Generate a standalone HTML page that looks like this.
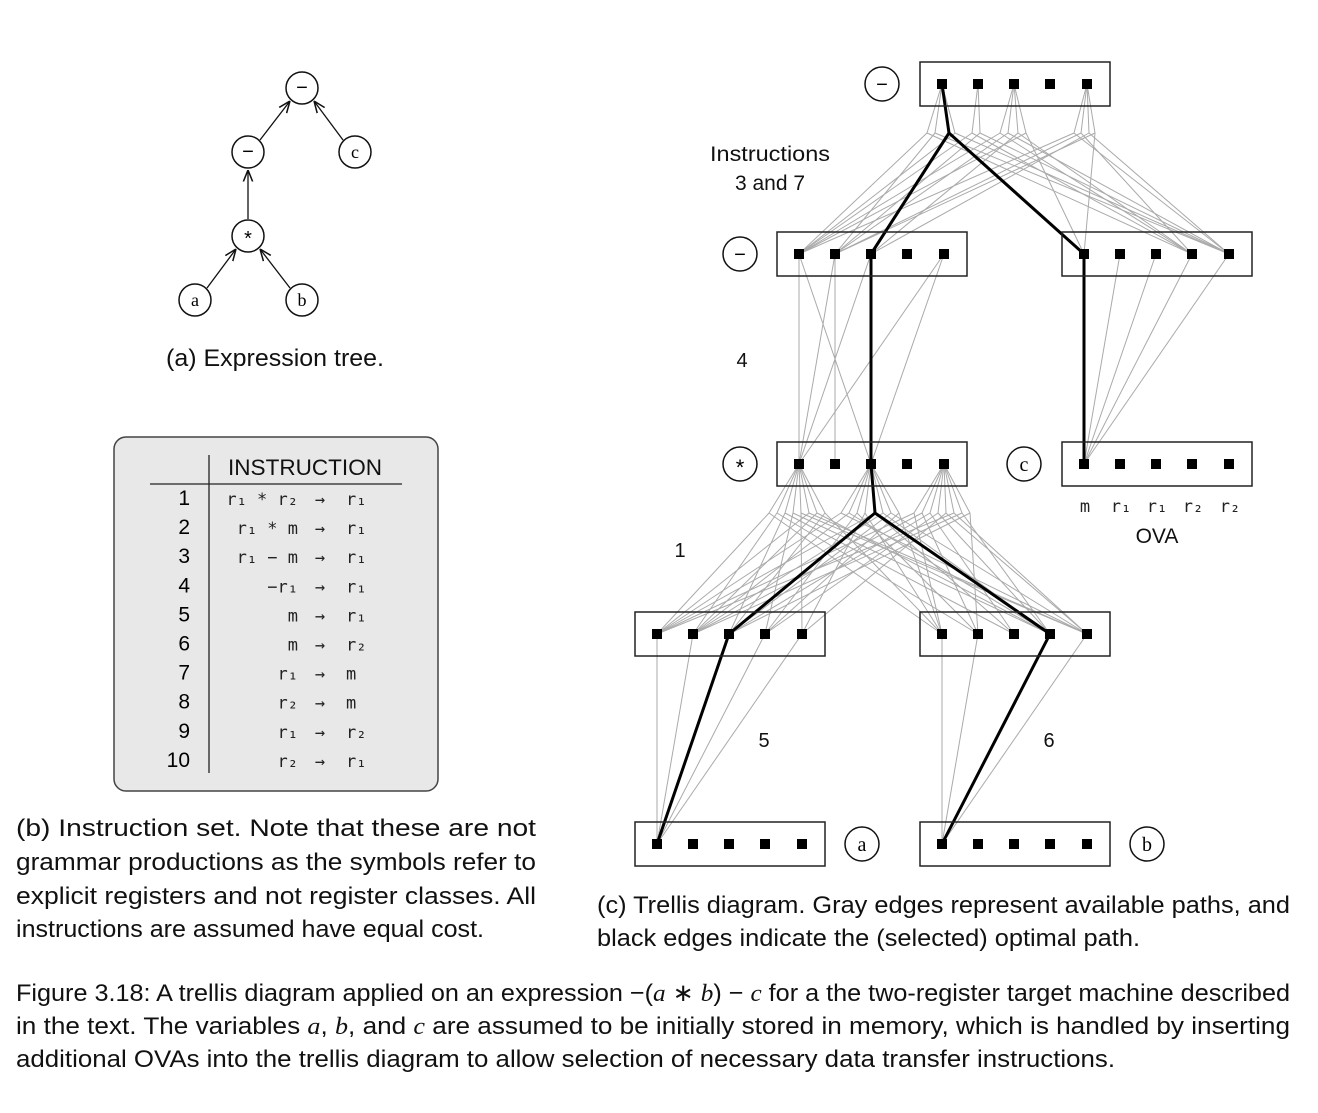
<!DOCTYPE html>
<html><head><meta charset="utf-8"><style>
html,body{margin:0;padding:0;background:#fff;}
svg{display:block;font-family:"Liberation Sans",sans-serif;}
.cap{font-family:"Liberation Sans",sans-serif;font-size:24.5px;fill:#111;}
.mono{font-family:"DejaVu Sans Mono","Liberation Mono",monospace;font-size:17px;fill:#222;}
.g{stroke:#aaa;stroke-width:1;fill:none;}
.k{stroke:#000;stroke-width:3;fill:none;}
.box{fill:none;stroke:#222;stroke-width:1.5;}
.nd{fill:#fff;stroke:#111;stroke-width:1.5;}
</style></head><body>
<svg id="fig" width="1318" height="1113" viewBox="0 0 1318 1113" xmlns="http://www.w3.org/2000/svg">
<defs><marker id="ar" viewBox="0 0 10 10" refX="10" refY="5" markerWidth="9" markerHeight="9" orient="auto"><path d="M0,1 L10,5 L0,9" fill="none" stroke="#111" stroke-width="1.3"/></marker></defs>

<g>
<line x1="260" y1="140" x2="290" y2="101" stroke="#111" stroke-width="1.3" marker-end="url(#ar)"/>
<line x1="343" y1="140" x2="314" y2="101" stroke="#111" stroke-width="1.3" marker-end="url(#ar)"/>
<line x1="248" y1="219" x2="248" y2="170" stroke="#111" stroke-width="1.3" marker-end="url(#ar)"/>
<line x1="207" y1="288" x2="236" y2="249" stroke="#111" stroke-width="1.3" marker-end="url(#ar)"/>
<line x1="290" y1="288" x2="260" y2="249" stroke="#111" stroke-width="1.3" marker-end="url(#ar)"/>
<circle class="nd" cx="302" cy="88" r="16"/><text x="302" y="94" text-anchor="middle" font-size="20">−</text>
<circle class="nd" cx="248" cy="152" r="16"/><text x="248" y="158" text-anchor="middle" font-size="20">−</text>
<circle class="nd" cx="355" cy="152" r="16"/><text x="355" y="158" text-anchor="middle" font-size="18" font-family="Liberation Serif">c</text>
<circle class="nd" cx="248" cy="236" r="16"/><text x="248" y="245" text-anchor="middle" font-size="20">*</text>
<circle class="nd" cx="195" cy="300" r="16"/><text x="195" y="306" text-anchor="middle" font-size="18" font-family="Liberation Serif">a</text>
<circle class="nd" cx="302" cy="300" r="16"/><text x="302" y="306" text-anchor="middle" font-size="18" font-family="Liberation Serif">b</text>
</g>
<text class="cap" x="166" y="366" textLength="218" lengthAdjust="spacingAndGlyphs">(a) Expression tree.</text>

<g>
<rect x="114" y="437" width="324" height="354" rx="12" fill="#e8e8e8" stroke="#444" stroke-width="1.5"/>
<line x1="150" y1="484" x2="402" y2="484" stroke="#222" stroke-width="1.3"/>
<line x1="209" y1="455" x2="209" y2="773" stroke="#222" stroke-width="1.3"/>
<text x="305" y="475" text-anchor="middle" font-size="22" textLength="154" lengthAdjust="spacingAndGlyphs" fill="#111">INSTRUCTION</text>
<g id="rows"></g>
</g>
<text class="cap" x="16" y="836" textLength="520" lengthAdjust="spacingAndGlyphs">(b) Instruction set.  Note that these are not</text>
<text class="cap" x="16" y="870" textLength="520" lengthAdjust="spacingAndGlyphs">grammar productions as the symbols refer to</text>
<text class="cap" x="16" y="904" textLength="520" lengthAdjust="spacingAndGlyphs">explicit registers and not register classes. All</text>
<text class="cap" x="16" y="937" textLength="468" lengthAdjust="spacingAndGlyphs">instructions are assumed have equal cost.</text>

<g id="trellis">
<g id="edges"></g><g id="black"></g><g id="boxes"></g>
</g>
<text x="770" y="161" text-anchor="middle" font-size="21" textLength="120" lengthAdjust="spacingAndGlyphs" fill="#111">Instructions</text>
<text x="770" y="190" text-anchor="middle" font-size="21" fill="#111">3 and 7</text>
<text x="742" y="367" text-anchor="middle" font-size="20" fill="#111">4</text>
<text x="680" y="557" text-anchor="middle" font-size="20" fill="#111">1</text>
<text x="764" y="747" text-anchor="middle" font-size="20" fill="#111">5</text>
<text x="1049" y="747" text-anchor="middle" font-size="20" fill="#111">6</text>
<g>
<text class="mono" x="1085" y="512" text-anchor="middle" font-size="16">m</text>
<text class="mono" x="1121" y="512" text-anchor="middle" font-size="16">r₁</text>
<text class="mono" x="1157" y="512" text-anchor="middle" font-size="16">r₁</text>
<text class="mono" x="1193" y="512" text-anchor="middle" font-size="16">r₂</text>
<text class="mono" x="1230" y="512" text-anchor="middle" font-size="16">r₂</text>
</g>
<text x="1157" y="543" text-anchor="middle" font-size="21" fill="#111">OVA</text>
<text class="cap" x="597" y="913" textLength="693" lengthAdjust="spacingAndGlyphs">(c) Trellis diagram. Gray edges represent available paths, and</text>
<text class="cap" x="597" y="946" textLength="543" lengthAdjust="spacingAndGlyphs">black edges indicate the (selected) optimal path.</text>

<text class="cap" x="16" y="1001" textLength="1274" lengthAdjust="spacingAndGlyphs">Figure 3.18: A trellis diagram applied on an expression −(<tspan font-family="Liberation Serif" font-style="italic">a</tspan> ∗ <tspan font-family="Liberation Serif" font-style="italic">b</tspan>) − <tspan font-family="Liberation Serif" font-style="italic">c</tspan> for a the two-register target machine described</text>
<text class="cap" x="16" y="1034" textLength="1274" lengthAdjust="spacingAndGlyphs">in the text. The variables <tspan font-family="Liberation Serif" font-style="italic">a</tspan>, <tspan font-family="Liberation Serif" font-style="italic">b</tspan>, and <tspan font-family="Liberation Serif" font-style="italic">c</tspan> are assumed to be initially stored in memory, which is handled by inserting</text>
<text class="cap" x="16" y="1067" textLength="1099" lengthAdjust="spacingAndGlyphs">additional OVAs into the trellis diagram to allow selection of necessary data transfer instructions.</text>
</svg>
<script>
const NS="http://www.w3.org/2000/svg";
const rowNums=["1","2","3","4","5","6","7","8","9","10"];
const rowLhs=["r₁ * r₂","r₁ * m","r₁ − m","−r₁","m","m","r₁","r₂","r₁","r₂"];
const rowRhs=["r₁","r₁","r₁","r₁","r₁","r₂","m","m","r₂","r₁"];
const rg=document.getElementById('rows');
function T(parent,x,y,s,cls,anchor){const t=document.createElementNS(NS,'text');t.setAttribute('x',x);t.setAttribute('y',y);if(cls)t.setAttribute('class',cls);if(anchor)t.setAttribute('text-anchor',anchor);t.textContent=s;parent.appendChild(t);return t;}
rowNums.forEach((n,i)=>{
  const y=505+i*29.1;
  const g=document.createElementNS(NS,'g');
  
  
  const a=T(g,190,y,n,null,'end');a.setAttribute('font-size','21');
  T(g,298,y,rowLhs[i],'mono','end');
  T(g,320,y,'→','mono','middle');
  T(g,346,y,rowRhs[i],'mono','start');
  rg.appendChild(g);
});

const dx=[22,58,94,130,167];
const boxes=[
 {id:'top',x:920,y:62,label:'−',cx:882},
 {id:'negL',x:777,y:232,label:'−',cx:740},
 {id:'ovaR',x:1062,y:232},
 {id:'mul',x:777,y:442,label:'*',cx:740},
 {id:'c',x:1062,y:442,label:'c',cx:1024},
 {id:'l4',x:635,y:612},
 {id:'r4',x:920,y:612},
 {id:'a',x:635,y:822,label:'a',cx:862},
 {id:'b',x:920,y:822,label:'b',cx:1147}
];
const B={};boxes.forEach(b=>B[b.id]=b);
function P(id,i){const b=B[id];return [b.x+dx[i],b.y+22];}
const eg=document.getElementById('edges'),kg=document.getElementById('black'),bg=document.getElementById('boxes');
function L(g,p,q,cls){const l=document.createElementNS(NS,'line');l.setAttribute('x1',p[0]);l.setAttribute('y1',p[1]);l.setAttribute('x2',q[0]);l.setAttribute('y2',q[1]);l.setAttribute('class',cls);g.appendChild(l);}

const topParent=[0,0,0,0,1,1,2,2,2,2,4,4,4,4];
const topJoff=[-15,-7,7,13,-6,2,-14,-6,4,12,-13,-6,2,8];
const topLeft=[0,1,2,0,0,1,0,1,2,0,0,1,2,1];
const topRight=[3,4,0,4,3,4,3,4,3,0,4,3,4,0];
topParent.forEach((p,i)=>{
  const s=P('top',p);const j=[s[0]+topJoff[i],s[1]+49];
  L(eg,s,j,'g');L(eg,j,P('negL',topLeft[i]),'g');L(eg,j,P('ovaR',topRight[i]),'g');
});
const mulParent=[0,0,0,0,0,0,0,0,2,2,2,2,2,2,2,2,4,4,4,4,4,4,4,4];
const mulJoff=[-30,-22,-14,-6,2,10,18,26,-30,-22,-14,-6,4,12,20,28,-30,-22,-14,-6,2,10,18,26];
const mulLeft=[0,1,2,3,4,0,1,2,0,1,3,4,0,1,2,3,0,1,2,3,4,0,1,2];
const mulRight=[0,1,2,3,4,4,3,0,4,3,1,0,2,3,4,0,0,1,2,3,4,4,3,1];
mulParent.forEach((p,i)=>{
  const s=P('mul',p);const j=[s[0]+mulJoff[i],s[1]+49];
  L(eg,s,j,'g');L(eg,j,P('l4',mulLeft[i]),'g');L(eg,j,P('r4',mulRight[i]),'g');
});
const negFrom=[0,0,1,1,2,4,4];
const negTo=[0,2,0,1,0,0,2];
negFrom.forEach((f,i)=>L(eg,P('negL',f),P('mul',negTo[i]),'g'));
const ovaFrom=[1,2,3,4];
ovaFrom.forEach(f=>L(eg,P('ovaR',f),P('c',0),'g'));
const ldFrom=[0,1,3,4];
ldFrom.forEach(f=>{L(eg,P('l4',f),P('a',0),'g');L(eg,P('r4',f),P('b',0),'g');});

const tj=[P('top',0)[0]+7,P('top',0)[1]+49];
L(kg,P('top',0),tj,'k');L(kg,tj,P('negL',2),'k');L(kg,tj,P('ovaR',0),'k');
L(kg,P('negL',2),P('mul',2),'k');L(kg,P('ovaR',0),P('c',0),'k');
const mj=[P('mul',2)[0]+4,P('mul',2)[1]+49];
L(kg,P('mul',2),mj,'k');L(kg,mj,P('l4',2),'k');L(kg,mj,P('r4',3),'k');
L(kg,P('l4',2),P('a',0),'k');L(kg,P('r4',3),P('b',0),'k');

boxes.forEach(b=>{
  const g=document.createElementNS(NS,'g');
  
  
  const r=document.createElementNS(NS,'rect');r.setAttribute('x',b.x);r.setAttribute('y',b.y);r.setAttribute('width',190);r.setAttribute('height',44);r.setAttribute('class','box');g.appendChild(r);
  dx.forEach(d=>{const s=document.createElementNS(NS,'rect');s.setAttribute('x',b.x+d-5);s.setAttribute('y',b.y+17);s.setAttribute('width',10);s.setAttribute('height',10);s.setAttribute('fill','#000');g.appendChild(s);});
  if(b.label){const c=document.createElementNS(NS,'circle');c.setAttribute('cx',b.cx);c.setAttribute('cy',b.y+22);c.setAttribute('r',17);c.setAttribute('class','nd');g.appendChild(c);
    const t=T(g,b.cx,b.y+(b.label==='*'?33:29),b.label,null,'middle');t.setAttribute('font-size',b.label==='*'?'22':'20');if('abc'.includes(b.label))t.setAttribute('font-family','Liberation Serif');}
  bg.appendChild(g);
});
</script>
</body></html>
